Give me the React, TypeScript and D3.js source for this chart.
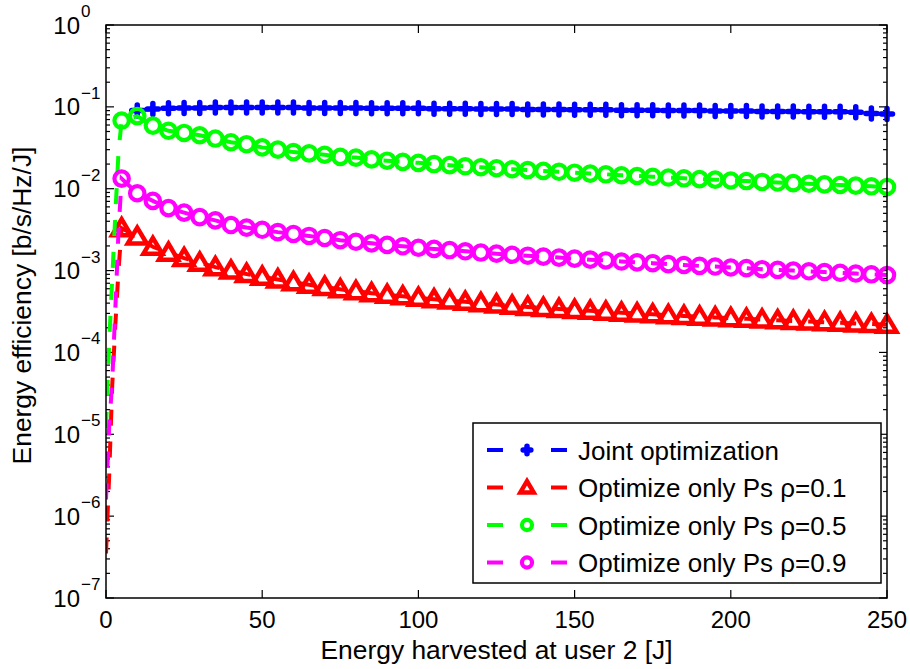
import * as d3 from 'd3'
import { useEffect, useRef } from 'react'

// x positions of the markers (every 5 J)
const markerE = d3.range(5, 255, 5)
const joinE = d3.range(10, 255, 5)
// steep rise at very low harvested energy (no markers there)
const rampE = [0, 1, 2, 3, 4]

const jointVals = [
  0.090, 0.094, 0.096, 0.097, 0.097, 0.098, 0.098, 0.098, 0.098, 0.098,
  0.098, 0.097, 0.097, 0.097, 0.097, 0.096, 0.096, 0.096, 0.096, 0.095,
  0.095, 0.095, 0.094, 0.094, 0.094, 0.093, 0.093, 0.093, 0.092, 0.092,
  0.092, 0.091, 0.091, 0.091, 0.090, 0.090, 0.090, 0.089, 0.089, 0.089,
  0.088, 0.088, 0.088, 0.087, 0.087, 0.087, 0.086, 0.083, 0.082
]

const rho1Ramp = [3.5e-7, 3e-6, 4e-5, 2.2e-4, 1.0e-3]
const rho1Vals = [
  3.3e-3, 2.6e-3, 1.95e-3, 1.65e-3, 1.42e-3, 1.25e-3, 1.1e-3, 1.0e-3, 9.1e-4, 8.4e-4,
  7.8e-4, 7.2e-4, 6.7e-4, 6.3e-4, 5.9e-4, 5.6e-4, 5.3e-4, 5.05e-4, 4.85e-4, 4.65e-4,
  4.45e-4, 4.3e-4, 4.15e-4, 4.0e-4, 3.85e-4, 3.72e-4, 3.6e-4, 3.5e-4, 3.4e-4, 3.3e-4,
  3.22e-4, 3.14e-4, 3.06e-4, 2.99e-4, 2.92e-4, 2.85e-4, 2.79e-4, 2.73e-4, 2.67e-4, 2.62e-4,
  2.57e-4, 2.52e-4, 2.47e-4, 2.42e-4, 2.38e-4, 2.34e-4, 2.3e-4, 2.26e-4, 2.22e-4, 2.18e-4
]

const rho5Ramp = [1.2e-5, 1.3e-4, 8e-4, 5e-3, 2.8e-2]
const rho5Vals = [
  0.068, 0.077, 0.059, 0.051, 0.048, 0.045, 0.041, 0.037, 0.035, 0.032,
  0.030, 0.028, 0.027, 0.026, 0.0245, 0.024, 0.0228, 0.0220, 0.0213, 0.0207,
  0.0200, 0.0194, 0.0188, 0.0183, 0.0178, 0.0173, 0.0169, 0.0165, 0.0161, 0.0157,
  0.0153, 0.0150, 0.0146, 0.0143, 0.0140, 0.0137, 0.0134, 0.0131, 0.0129, 0.0126,
  0.0124, 0.0121, 0.0119, 0.0117, 0.0115, 0.0113, 0.0111, 0.0109, 0.0107, 0.0105
]

const rho9Ramp = [1.6e-6, 1.2e-5, 4.5e-5, 3.5e-4, 3.0e-3]
const rho9Vals = [
  1.33e-2, 8.8e-3, 7.1e-3, 5.8e-3, 5.1e-3, 4.5e-3, 4.1e-3, 3.6e-3, 3.35e-3, 3.15e-3,
  2.95e-3, 2.8e-3, 2.65e-3, 2.5e-3, 2.35e-3, 2.25e-3, 2.15e-3, 2.06e-3, 1.98e-3, 1.9e-3,
  1.84e-3, 1.78e-3, 1.72e-3, 1.66e-3, 1.61e-3, 1.56e-3, 1.52e-3, 1.48e-3, 1.44e-3, 1.40e-3,
  1.36e-3, 1.33e-3, 1.29e-3, 1.26e-3, 1.23e-3, 1.2e-3, 1.17e-3, 1.14e-3, 1.12e-3, 1.09e-3,
  1.07e-3, 1.04e-3, 1.02e-3, 1.0e-3, 9.8e-4, 9.6e-4, 9.4e-4, 9.2e-4, 9.0e-4, 8.8e-4
]

const xTicks = [0, 50, 100, 150, 200, 250]
const yExps = [0, -1, -2, -3, -4, -5, -6, -7]
const legendLabels = [
  'Joint optimization',
  'Optimize only Ps \u03c1=0.1',
  'Optimize only Ps \u03c1=0.5',
  'Optimize only Ps \u03c1=0.9'
]

type Pt = [number, number]
const zip = (xs: number[], ys: number[]): Pt[] => xs.map((x, i) => [x, ys[i]])

const series = [
  { name: legendLabels[0], color: '#0000ff', marker: 'plus', line: zip(joinE, jointVals), marks: zip(joinE, jointVals) },
  { name: legendLabels[1], color: '#ff0000', marker: 'tri', line: zip(rampE, rho1Ramp).concat(zip(markerE, rho1Vals)), marks: zip(markerE, rho1Vals) },
  { name: legendLabels[2], color: '#00ff00', marker: 'circle', line: zip(rampE, rho5Ramp).concat(zip(markerE, rho5Vals)), marks: zip(markerE, rho5Vals) },
  { name: legendLabels[3], color: '#ff00ff', marker: 'circle', line: zip(rampE, rho9Ramp).concat(zip(markerE, rho9Vals)), marks: zip(markerE, rho9Vals) }
]

const FONT = '"Liberation Sans", Arial, Helvetica, sans-serif'

// s = size factor (1 in the plot, smaller in the legend)
function drawMarker(g: any, kind: string, x: number, y: number, color: string, s = 1) {
  if (kind === 'plus') {
    const a = 5.5 * s
    g.append('path')
      .attr('d', `M${x - a},${y}H${x + a}M${x},${y - a}V${y + a}`)
      .attr('stroke', color).attr('stroke-width', 5.5).attr('fill', 'none')
      .attr('stroke-linecap', 'round')
  } else if (kind === 'tri') {
    g.append('path')
      .attr('d', `M${x},${y - 9 * s}L${x + 9.5 * s},${y + 7 * s}L${x - 9.5 * s},${y + 7 * s}Z`)
      .attr('stroke', color).attr('stroke-width', 4.5).attr('fill', 'none')
      .attr('stroke-linejoin', 'miter')
  } else {
    g.append('circle')
      .attr('cx', x).attr('cy', y).attr('r', 7.2 * s)
      .attr('stroke', color).attr('stroke-width', 4.2).attr('fill', 'none')
  }
}

export default function App() {
  const ref = useRef<SVGSVGElement>(null)

  useEffect(() => {
    const W = 910, H = 669
    const margin = { top: 25, right: 23, bottom: 71, left: 106 }
    const svg = d3.select(ref.current)
    svg.selectAll('*').remove()

    const x = d3.scaleLinear().domain([0, 250]).range([margin.left, W - margin.right])
    const y = d3.scaleLog().domain([1e-7, 1]).range([H - margin.bottom, margin.top])
    const [x0, x1] = x.range()
    const [y0, y1] = y.range()

    svg.append('rect').attr('width', W).attr('height', H).attr('fill', '#fff')

    // ticks (inside, mirrored on all four sides)
    const ax = svg.append('g').attr('stroke', '#000').attr('stroke-width', 1.2)
    xTicks.forEach(t => {
      ax.append('line').attr('x1', x(t)).attr('x2', x(t)).attr('y1', y0).attr('y2', y0 - 8)
      ax.append('line').attr('x1', x(t)).attr('x2', x(t)).attr('y1', y1).attr('y2', y1 + 8)
    })
    yExps.forEach(e => {
      const base = Math.pow(10, e)
      ax.append('line').attr('x1', x0).attr('x2', x0 + 8).attr('y1', y(base)).attr('y2', y(base))
      ax.append('line').attr('x1', x1).attr('x2', x1 - 8).attr('y1', y(base)).attr('y2', y(base))
      if (e > -7) {
        for (let k = 2; k <= 9; k++) {
          const v = base * k / 10
          ax.append('line').attr('x1', x0).attr('x2', x0 + 4).attr('y1', y(v)).attr('y2', y(v))
          ax.append('line').attr('x1', x1).attr('x2', x1 - 4).attr('y1', y(v)).attr('y2', y(v))
        }
      }
    })

    // tick labels
    xTicks.forEach(t => {
      svg.append('text').attr('x', x(t)).attr('y', y0 + 30)
        .attr('text-anchor', 'middle').attr('font-family', FONT).attr('font-size', 24)
        .text(t)
    })
    yExps.forEach(e => {
      const yy = y(Math.pow(10, e))
      svg.append('text').attr('x', 80).attr('y', yy + 8.5)
        .attr('text-anchor', 'end').attr('font-family', FONT).attr('font-size', 24)
        .text('10')
      svg.append('text').attr('x', 81).attr('y', yy - 8)
        .attr('font-family', FONT).attr('font-size', 17)
        .text(e === 0 ? '0' : '\u2212' + Math.abs(e))
    })

    svg.append('text').attr('x', (x0 + x1) / 2).attr('y', 659)
      .attr('text-anchor', 'middle').attr('font-family', FONT).attr('font-size', 26.4)
      .text('Energy harvested at user 2 [J]')
    svg.append('text')
      .attr('transform', `translate(31,${(y0 + y1) / 2 - 6}) rotate(-90)`)
      .attr('text-anchor', 'middle').attr('font-family', FONT).attr('font-size', 26.4)
      .text('Energy efficiency [b/s/Hz/J]')

    // series
    const clip = svg.append('defs').append('clipPath').attr('id', 'plotclip')
    clip.append('rect').attr('x', x0).attr('y', y1).attr('width', x1 - x0).attr('height', y0 - y1)
    const line = d3.line<Pt>().x(d => x(d[0])).y(d => y(d[1]))
    const plot = svg.append('g')
    series.forEach(s => {
      plot.append('path').datum(s.line)
        .attr('d', line)
        .attr('clip-path', 'url(#plotclip)')
        .attr('fill', 'none').attr('stroke', s.color).attr('stroke-width', 4)
        .attr('stroke-dasharray', '16 16')
      s.marks.forEach(p => drawMarker(plot, s.marker, x(p[0]), y(p[1]), s.color))
    })

    // axes box
    svg.append('rect').attr('x', x0).attr('y', y1).attr('width', x1 - x0).attr('height', y0 - y1)
      .attr('fill', 'none').attr('stroke', '#000').attr('stroke-width', 1.5)

    // legend
    const lg = svg.append('g')
    lg.append('rect').attr('x', 473).attr('y', 423).attr('width', 408).attr('height', 160)
      .attr('fill', '#fff').attr('stroke', '#000').attr('stroke-width', 1.5)
    series.forEach((s, i) => {
      const ly = 450 + i * 37.5
      lg.append('line').attr('x1', 487).attr('x2', 567).attr('y1', ly).attr('y2', ly)
        .attr('stroke', s.color).attr('stroke-width', 4).attr('stroke-dasharray', '16 48')
      drawMarker(lg, s.marker, 527, ly, s.color, 0.7)
      lg.append('text').attr('x', 578).attr('y', ly + 9.5)
        .attr('font-family', FONT).attr('font-size', 26)
        .text(s.name)
    })
  }, [])

  return (
    <div style={{ position: 'absolute', left: 0, top: 0 }}>
      <svg ref={ref} width={910} height={669} style={{ display: 'block' }} />
    </div>
  )
}
